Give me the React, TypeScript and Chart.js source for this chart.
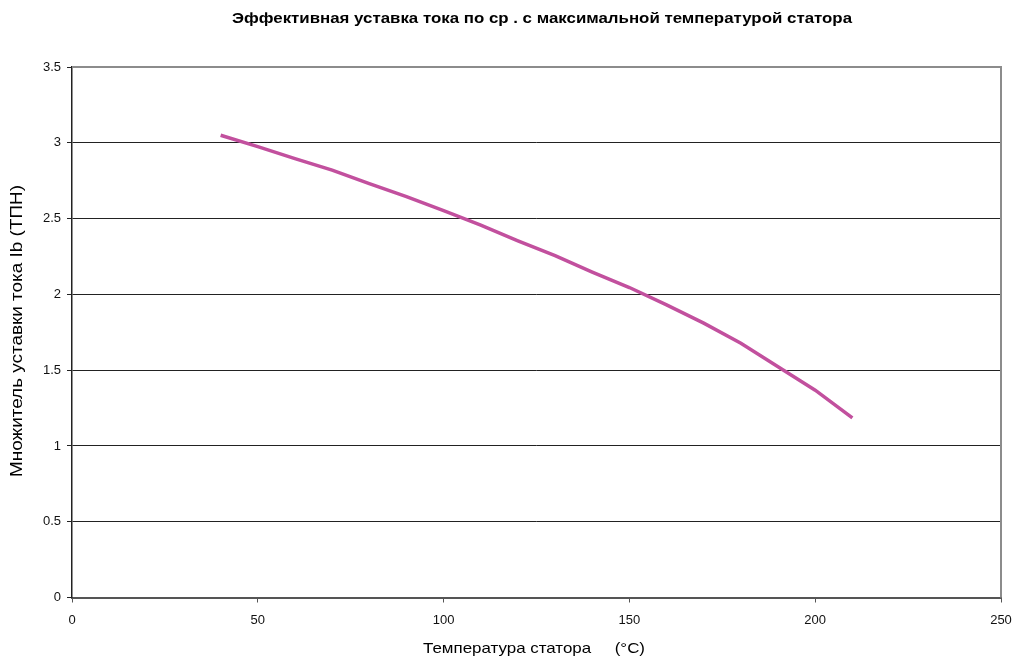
import React, { useEffect, useRef } from "react";
import { Chart, registerables } from "chart.js";

Chart.register(...registerables);

const TITLE = "Эффективная уставка тока по ср . с максимальной температурой статора";
const X_TITLE = "Температура статора     (°C)";
const Y_TITLE = "Множитель уставки тока Ib (ТПН)";

const temperatures = [40, 50, 60, 70, 80, 90, 100, 110, 120, 130, 140, 150, 160, 170, 180, 190, 200, 210];
const multipliers = [3.05, 2.975, 2.895, 2.82, 2.73, 2.645, 2.553, 2.457, 2.353, 2.255, 2.147, 2.045, 1.931, 1.81, 1.678, 1.522, 1.368, 1.185];

const X_MIN = 0;
const X_MAX = 250;
const X_STEP = 50;
const Y_MIN = 0;
const Y_MAX = 3.5;
const Y_STEP = 0.5;

const FONT = "'Liberation Sans', Arial, sans-serif";

function drawStretched(ctx: any, text: string, cx: number, cy: number, width: number, rotate = false) {
  ctx.save();
  ctx.translate(cx, cy);
  if (rotate) ctx.rotate(-Math.PI / 2);
  const w = ctx.measureText(text).width;
  ctx.scale(width / w, 1);
  ctx.fillText(text, 0, 0);
  ctx.restore();
}

const decorPlugin = {
  id: "decor",
  afterDraw(chart: any) {
    const { ctx, chartArea } = chart;
    const { left, right, top, bottom } = chartArea;
    ctx.save();
    ctx.strokeStyle = "#8c8c8c";
    ctx.lineWidth = 2;
    ctx.beginPath();
    ctx.moveTo(left, top);
    ctx.lineTo(right, top);
    ctx.lineTo(right, bottom);
    ctx.stroke();
    ctx.fillStyle = "#000";
    ctx.textAlign = "center";
    ctx.textBaseline = "middle";
    ctx.font = `bold 14px ${FONT}`;
    drawStretched(ctx, TITLE, 542, 19, 620);
    ctx.font = `15px ${FONT}`;
    drawStretched(ctx, X_TITLE, 534, 649, 222);
    ctx.font = `16px ${FONT}`;
    drawStretched(ctx, Y_TITLE, 18, 331, 292, true);
    ctx.restore();
  },
};

export default function App() {
  const ref = useRef<HTMLCanvasElement | null>(null);
  useEffect(() => {
    if (!ref.current) return;
    const chart = new Chart(ref.current, {
      type: "line",
      data: {
        datasets: [
          {
            data: temperatures.map((t, i) => ({ x: t, y: multipliers[i] })),
            borderColor: "#c2509e",
            borderWidth: 3.5,
            pointRadius: 0,
            tension: 0,
            fill: false,
          },
        ],
      },
      options: {
        animation: false,
        responsive: false,
        maintainAspectRatio: false,
        layout: { padding: { left: 0, top: 67, right: 15, bottom: 0 } },
        plugins: { legend: { display: false }, tooltip: { enabled: false }, title: { display: false } },
        scales: {
          x: {
            type: "linear",
            min: X_MIN,
            max: X_MAX,
            ticks: {
              stepSize: X_STEP,
              color: "#111",
              font: { family: FONT, size: 13 },
              padding: 10,
              maxRotation: 0,
              callback: (v: any) => String(v),
            },
            grid: { drawOnChartArea: false, drawTicks: true, tickLength: 5, color: "#555", lineWidth: 1 },
            border: { display: true, color: "#555", width: 2 },
            afterFit: (s: any) => {
              s.height = 63.5;
              s.paddingLeft = 0;
              s.paddingRight = 0;
            },
          },
          y: {
            min: Y_MIN,
            max: Y_MAX,
            ticks: {
              stepSize: Y_STEP,
              color: "#111",
              font: { family: FONT, size: 13 },
              padding: 6,
              callback: (v: any) => String(v),
            },
            grid: { color: "#222", lineWidth: 1, tickLength: 5, drawTicks: true },
            border: { display: true, color: "#222", width: 1.5 },
            afterFit: (s: any) => {
              s.width = 72;
            },
          },
        },
      },
      plugins: [decorPlugin],
    } as any);
    return () => chart.destroy();
  }, []);
  return (
    <div style={{ position: "fixed", left: 0, top: 0, width: 1016, height: 661, background: "#fff" }}>
      <canvas ref={ref} width={1016} height={661} style={{ display: "block" }} />
    </div>
  );
}
